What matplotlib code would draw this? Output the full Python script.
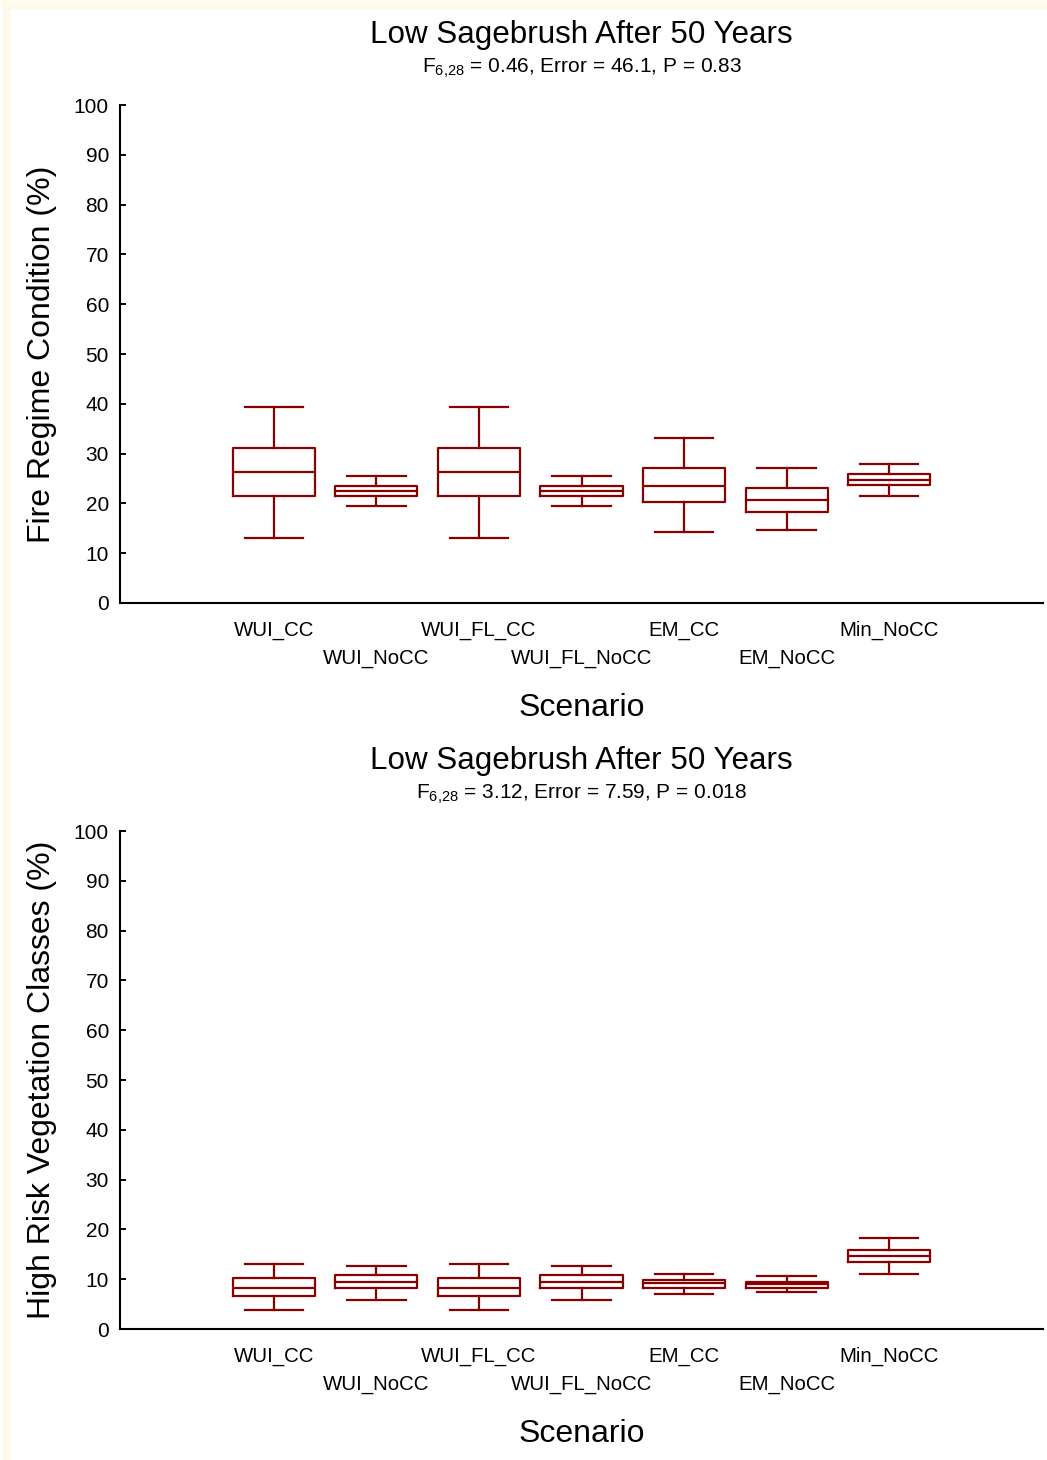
import matplotlib.pyplot as plt
from matplotlib.patches import Rectangle
from matplotlib.ticker import FixedLocator, FixedFormatter

plt.rcParams['font.family'] = ['Liberation Sans', 'DejaVu Sans']
plt.rcParams['mathtext.fontset'] = 'custom'
plt.rcParams['mathtext.rm'] = 'Liberation Sans'
plt.rcParams['mathtext.it'] = 'Liberation Sans'

scenarios = ['WUI_CC', 'WUI_NoCC', 'WUI_FL_CC', 'WUI_FL_NoCC', 'EM_CC', 'EM_NoCC', 'Min_NoCC']

# Fire regime condition (%): whisker low, Q1, median, Q3, whisker high
frc_low = [13.1, 19.5, 13.1, 19.5, 14.3, 14.7, 21.5]
frc_q1 = [21.5, 21.5, 21.5, 21.5, 20.3, 18.3, 23.6]
frc_med = [26.4, 22.5, 26.4, 22.5, 23.5, 20.7, 24.8]
frc_q3 = [31.2, 23.5, 31.2, 23.5, 27.2, 23.1, 26.0]
frc_high = [39.3, 25.6, 39.3, 25.6, 33.2, 27.2, 28.0]

# High risk vegetation classes (%)
hrv_low = [3.8, 5.8, 3.8, 5.8, 7.1, 7.5, 11.1]
hrv_q1 = [6.6, 8.2, 6.6, 8.2, 8.3, 8.3, 13.5]
hrv_med = [8.3, 9.5, 8.3, 9.5, 9.2, 9.1, 14.7]
hrv_q3 = [10.3, 10.8, 10.3, 10.8, 9.9, 9.5, 15.9]
hrv_high = [13.1, 12.7, 13.1, 12.7, 11.1, 10.7, 18.3]

title = 'Low Sagebrush After 50 Years'
stats_top = r'F$_{6{,}28}$ = 0.46, Error = 46.1, P = 0.83'
stats_bottom = r'F$_{6{,}28}$ = 3.12, Error = 7.59, P = 0.018'

box_color = '#880000'


def draw_panel(ax, low, q1, med, q3, high, ylabel, subtitle):
    stats = []
    for name, lo, a, m, b, hi in zip(scenarios, low, q1, med, q3, high):
        stats.append({'label': name, 'whislo': lo, 'q1': a, 'med': m,
                      'q3': b, 'whishi': hi, 'fliers': []})
    pos = list(range(1, len(scenarios) + 1))
    lw = 1.6
    ax.bxp(stats, positions=pos, widths=0.8, capwidths=0.57, showfliers=False,
           boxprops=dict(color=box_color, linewidth=lw),
           medianprops=dict(color=box_color, linewidth=lw),
           whiskerprops=dict(color=box_color, linewidth=lw),
           capprops=dict(color=box_color, linewidth=lw))
    ax.set_xlim(-0.5, 8.5)
    ax.set_ylim(0, 100)
    ax.set_yticks(range(0, 101, 10))

    # scenario names on two staggered rows: odd ones as major ticks, even ones as minor
    ax.xaxis.set_major_locator(FixedLocator(pos[0::2]))
    ax.xaxis.set_major_formatter(FixedFormatter(scenarios[0::2]))
    ax.xaxis.set_minor_locator(FixedLocator(pos[1::2]))
    ax.xaxis.set_minor_formatter(FixedFormatter(scenarios[1::2]))
    ax.tick_params(axis='x', which='major', length=0, pad=13, labelsize=14.7)
    ax.tick_params(axis='x', which='minor', length=0, pad=33, labelsize=14.7)

    ax.tick_params(axis='y', direction='in', length=4, width=1.4, labelsize=15, pad=8)
    for side in ['top', 'right']:
        ax.spines[side].set_visible(False)
    for side in ['left', 'bottom']:
        ax.spines[side].set_linewidth(1.5)
    ax.set_ylabel(ylabel, fontsize=23, labelpad=12)
    ax.set_xlabel('Scenario', fontsize=23, labelpad=18)
    ax.text(0.5, 1.05, subtitle, transform=ax.transAxes, ha='center', va='bottom', fontsize=15)
    ax.text(0.5, 1.11, title, transform=ax.transAxes, ha='center', va='bottom', fontsize=22.6)


fig = plt.figure(figsize=(10.47, 14.6), dpi=100)

# cream edge along the top and left of the page
fig.patches.append(Rectangle((0.002, 0.9945), 0.998, 0.0045, transform=fig.transFigure,
                             color='#fff9ec', zorder=0))
fig.patches.append(Rectangle((0.003, 0.0), 0.0058, 0.999, transform=fig.transFigure,
                             color='#fff9ec', zorder=0))

ax1 = fig.add_axes([0.1146, 0.587, 0.8816, 0.341])
ax2 = fig.add_axes([0.1146, 0.0897, 0.8816, 0.3411])

draw_panel(ax1, frc_low, frc_q1, frc_med, frc_q3, frc_high,
           'Fire Regime Condition (%)', stats_top)
draw_panel(ax2, hrv_low, hrv_q1, hrv_med, hrv_q3, hrv_high,
           'High Risk Vegetation Classes (%)', stats_bottom)

fig.savefig('out.png', dpi=100)
